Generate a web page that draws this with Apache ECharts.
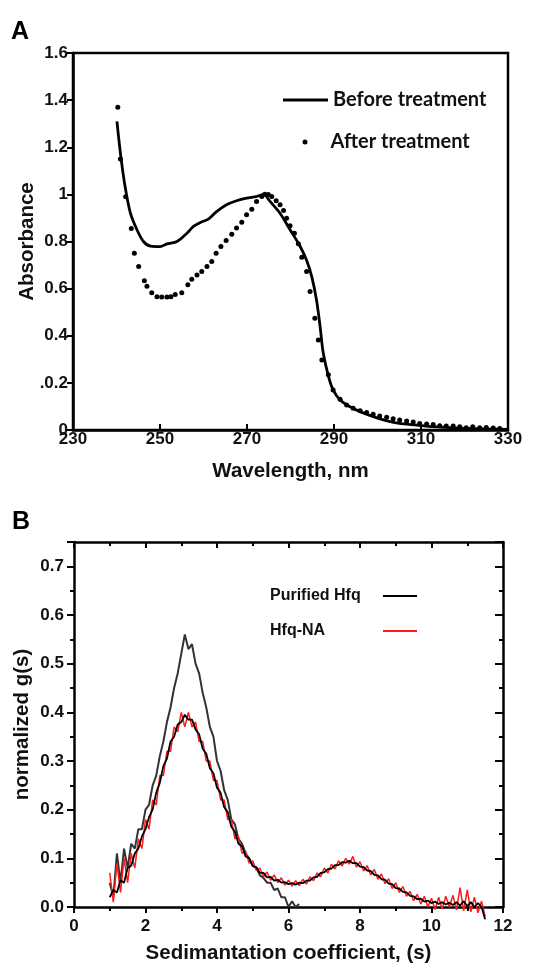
<!DOCTYPE html>
<html>
<head>
<meta charset="utf-8">
<script src="https://cdn.jsdelivr.net/npm/echarts@6/dist/echarts.min.js"></script>
<style>
html,body{margin:0;padding:0;background:#fff;}
#c{width:549px;height:965px;}
</style>
</head>
<body>
<div id="c"></div>
<script>
// ---------- Panel A data ----------
const beforeX = [240.1,241,242,243.2,244.7,246.2,247.8,250,251.6,253.9,256.2,257.7,259.2,261.1,263,265.3,267.6,269.9,272.2,273.8,275.3,277.6,279.9,282.2,283.7,284.9,286,286.8,287.5,288.7,289.8,291.4,293.7,296,299,302,305,309,312.8,320.4,330];
const beforeY = [1.31,1.16,1.03,0.92,0.85,0.80,0.78,0.778,0.79,0.80,0.835,0.864,0.88,0.895,0.927,0.956,0.973,0.984,0.991,1.0,0.97,0.92,0.85,0.78,0.72,0.65,0.55,0.44,0.33,0.23,0.17,0.127,0.099,0.078,0.057,0.04,0.028,0.021,0.014,0.007,0.003];
const afterX = [240.3,240.9,242.1,243.4,244.1,245.1,246.4,247,248.1,249.3,250.4,251.6,252.5,253.5,255,256.4,257.3,258.5,259.6,260.8,261.9,262.9,264,265.2,266.5,267.6,268.8,269.9,271.1,272.2,273.4,274.1,274.9,275.7,276.7,277.6,278.4,279.1,279.9,280.9,281.8,282.6,283.7,284.5,285.6,286.4,287.2,288.7,289.8,291.4,292.9,294.4,296,297.5,299,300.5,302.1,303.6,305.1,306.7,308.2,309.7,311.3,312.8,314.3,315.8,317.4,318.9,320.4,321.9,323.5,325,326.6,328.1];
const afterY = [1.37,1.15,0.99,0.855,0.75,0.694,0.633,0.61,0.583,0.566,0.564,0.564,0.566,0.575,0.583,0.616,0.64,0.658,0.673,0.694,0.715,0.75,0.779,0.804,0.831,0.857,0.882,0.913,0.937,0.97,0.991,1.001,1.0,0.991,0.973,0.956,0.932,0.899,0.867,0.835,0.79,0.733,0.673,0.588,0.474,0.382,0.297,0.234,0.17,0.13,0.106,0.092,0.082,0.074,0.067,0.059,0.054,0.048,0.042,0.038,0.034,0.028,0.025,0.023,0.018,0.017,0.017,0.014,0.01,0.014,0.01,0.011,0.008,0.006];
const absTickLabels = ['0','.0.2','0.4','0.6','0.8','1','1.2','1.4','1.6'];

// ---------- Panel B data ----------
const sedX = [1.0,1.1,1.2,1.3,1.4,1.5,1.6,1.7,1.8,1.9,2.0,2.1,2.2,2.3,2.4,2.5,2.6,2.7,2.8,2.9,3.0,3.1,3.2,3.3,3.4,3.5,3.6,3.7,3.8,3.9,4.0,4.1,4.2,4.3,4.4,4.5,4.6,4.7,4.8,4.9,5.0,5.1,5.2,5.3,5.4,5.5,5.6,5.7,5.8,5.9,6.0,6.1,6.2,6.3,6.4,6.5,6.6,6.7,6.8,6.9,7.0,7.1,7.2,7.3,7.4,7.5,7.6,7.7,7.8,7.9,8.0,8.1,8.2,8.3,8.4,8.5,8.6,8.7,8.8,8.9,9.0,9.1,9.2,9.3,9.4,9.5,9.6,9.7,9.8,9.9,10.0,10.1,10.2,10.3,10.4,10.5,10.6,10.7,10.8,10.9,11.0,11.1,11.2,11.3,11.4,11.5];
const purifiedY = [0.05,0.02,0.11,0.05,0.12,0.08,0.13,0.12,0.16,0.16,0.20,0.21,0.25,0.27,0.31,0.34,0.38,0.41,0.45,0.48,0.52,0.56,0.53,0.54,0.50,0.48,0.44,0.41,0.37,0.35,0.30,0.28,0.24,0.22,0.18,0.17,0.14,0.13,0.11,0.10,0.085,0.08,0.065,0.06,0.05,0.05,0.035,0.038,0.02,0.02,0.0,0.012,0.0,0.006];
const hfqNaY = [0.07,0.01,0.09,0.03,0.10,0.05,0.11,0.08,0.14,0.12,0.18,0.16,0.22,0.21,0.27,0.27,0.32,0.32,0.37,0.36,0.40,0.37,0.40,0.37,0.38,0.34,0.34,0.30,0.30,0.26,0.26,0.22,0.22,0.18,0.18,0.14,0.145,0.11,0.115,0.09,0.095,0.075,0.08,0.062,0.072,0.055,0.066,0.05,0.06,0.045,0.055,0.043,0.054,0.044,0.057,0.047,0.062,0.054,0.07,0.062,0.08,0.07,0.088,0.078,0.095,0.084,0.1,0.088,0.104,0.082,0.093,0.074,0.085,0.066,0.077,0.057,0.068,0.048,0.058,0.038,0.05,0.03,0.042,0.022,0.032,0.013,0.026,0.006,0.022,0.0,0.018,-0.005,0.02,-0.004,0.022,0.0,0.024,-0.006,0.04,-0.008,0.035,-0.01,0.02,-0.012,0.012,-0.02];
const hfqNaFitY = [0.02,0.035,0.03,0.055,0.05,0.08,0.085,0.11,0.12,0.145,0.16,0.185,0.20,0.235,0.255,0.29,0.305,0.34,0.35,0.375,0.38,0.395,0.385,0.385,0.365,0.355,0.325,0.315,0.285,0.275,0.245,0.235,0.205,0.195,0.165,0.155,0.13,0.125,0.104,0.1,0.084,0.082,0.07,0.07,0.061,0.062,0.054,0.056,0.05,0.051,0.047,0.049,0.046,0.05,0.049,0.054,0.054,0.061,0.062,0.07,0.071,0.078,0.079,0.086,0.086,0.092,0.091,0.095,0.09,0.09,0.083,0.082,0.075,0.074,0.066,0.065,0.057,0.056,0.048,0.047,0.039,0.038,0.031,0.03,0.023,0.022,0.016,0.017,0.011,0.013,0.008,0.011,0.006,0.01,0.005,0.009,0.004,0.01,0.003,0.012,0.002,0.01,0.0,0.008,0.0,-0.025];

function pairs(xs, ys){ return ys.map((y,i)=>[xs[i], y]); }

const FONT = "'Liberation Sans', Arial, sans-serif";
const lbl = {fontFamily: FONT, fontWeight: 'bold', fontSize: 17, color: '#111'};
const nameStyle = {fontFamily: FONT, fontWeight: 'bold', fontSize: 20.5, color: '#111'};
const legendFontA = "Lato, 'Open Sans', sans-serif";

const chart = echarts.init(document.getElementById('c'), null, {renderer: 'canvas'});
chart.setOption({
  backgroundColor: '#fff',
  animation: false,
  title: [
    {text: 'A', left: 11, top: 20, padding: 0, textStyle: {fontFamily: FONT, fontWeight: 'bold', fontSize: 25, color: '#000'}},
    {text: 'B', left: 12, top: 510, padding: 0, textStyle: {fontFamily: FONT, fontWeight: 'bold', fontSize: 25, color: '#000'}}
  ],
  legend: [
    {
      data: [{name: 'Before treatment', icon: 'rect'}],
      left: 283, top: 90, padding: 0,
      itemWidth: 45, itemHeight: 3,
      textStyle: {fontFamily: legendFontA, fontWeight: 'bold', fontSize: 20, color: '#111'}
    },
    {
      data: [{name: 'After treatment', icon: 'circle'}],
      left: 302.5, top: 132, padding: 0,
      itemWidth: 5, itemHeight: 5,
      textStyle: {fontFamily: legendFontA, fontWeight: 'bold', fontSize: 20, color: '#111', padding: [0,0,0,18]}
    },
    {
      data: [{name: 'Purified Hfq', icon: 'rect'}, {name: 'Hfq-NA', icon: 'rect'}],
      left: 270, top: 588, padding: 0,
      orient: 'vertical',
      align: 'right',
      itemWidth: 34, itemHeight: 2,
      itemGap: 19,
      formatter: function(n){ return '{a|' + n + '}'; },
      textStyle: {
        fontFamily: FONT, fontWeight: 'bold', fontSize: 16, color: '#111',
        rich: {a: {fontFamily: FONT, fontWeight: 'bold', fontSize: 16, color: '#111', width: 108, lineHeight: 18, align: 'left'}}
      }
    }
  ],
  grid: [
    {left: 73, right: 41, top: 53, bottom: 535, show: true, borderColor: '#000', borderWidth: 2.5, backgroundColor: 'transparent'},
    {left: 74, right: 46, top: 542, bottom: 55, show: false}
  ],
  xAxis: [
    {
      gridIndex: 0, type: 'value', min: 230, max: 330, interval: 20,
      axisLine: {show: true, lineStyle: {color: '#000', width: 2.5}},
      axisTick: {show: true, inside: true, length: 6, lineStyle: {color: '#000', width: 2}},
      splitLine: {show: false},
      axisLabel: Object.assign({margin: 1}, lbl),
      name: 'Wavelength, nm', nameLocation: 'middle', nameGap: 31, nameMoveOverlap: false,
      nameTextStyle: nameStyle
    },
    {
      gridIndex: 1, type: 'value', min: 0, max: 12, interval: 2,
      axisLine: {show: true, onZero: false, lineStyle: {color: '#000', width: 2.5}},
      axisTick: {show: true, inside: false, length: 6, lineStyle: {color: '#000', width: 2}},
      minorTick: {show: true, splitNumber: 2, length: 4, lineStyle: {color: '#000', width: 2}},
      splitLine: {show: false},
      axisLabel: Object.assign({margin: 11}, lbl),
      name: 'Sedimantation coefficient, (s)', nameLocation: 'middle', nameGap: 36, nameMoveOverlap: false,
      nameTextStyle: nameStyle
    },
    {
      gridIndex: 1, type: 'value', min: 0, max: 12, interval: 2, position: 'top',
      axisLine: {show: true, onZero: false, lineStyle: {color: '#000', width: 2.5}},
      axisTick: {show: true, inside: true, length: 6, lineStyle: {color: '#000', width: 2}},
      minorTick: {show: true, splitNumber: 2, length: 4, lineStyle: {color: '#000', width: 2}},
      splitLine: {show: false},
      axisLabel: {show: false}
    }
  ],
  yAxis: [
    {
      gridIndex: 0, type: 'value', min: 0, max: 1.6, interval: 0.2,
      axisLine: {show: true, lineStyle: {color: '#000', width: 2.5}},
      axisTick: {show: true, inside: false, length: 6, lineStyle: {color: '#000', width: 2}},
      splitLine: {show: false},
      axisLabel: Object.assign({margin: 5, formatter: function(v){ return absTickLabels[Math.round(v/0.2)]; }}, lbl),
      name: 'Absorbance', nameLocation: 'middle', nameGap: 35, nameMoveOverlap: false,
      nameTextStyle: nameStyle
    },
    {
      gridIndex: 1, type: 'value', min: 0, max: 0.75, interval: 0.1,
      axisLine: {show: true, onZero: false, lineStyle: {color: '#000', width: 2.5}},
      axisTick: {show: true, inside: false, length: 7, lineStyle: {color: '#000', width: 2}},
      minorTick: {show: true, splitNumber: 2, length: 4, lineStyle: {color: '#000', width: 2}},
      splitLine: {show: false},
      axisLabel: Object.assign({margin: 10, showMaxLabel: false, formatter: function(v){ return v.toFixed(1); }}, lbl),
      name: 'normalized g(s)', nameLocation: 'middle', nameGap: 41, nameMoveOverlap: false,
      nameTextStyle: nameStyle
    },
    {
      gridIndex: 1, type: 'value', min: 0, max: 0.75, interval: 0.1, position: 'right',
      axisLine: {show: true, onZero: false, lineStyle: {color: '#000', width: 2.5}},
      axisTick: {show: true, inside: true, length: 8, lineStyle: {color: '#000', width: 2}},
      minorTick: {show: true, splitNumber: 2, length: 4, lineStyle: {color: '#000', width: 2}},
      splitLine: {show: false},
      axisLabel: {show: false}
    }
  ],
  series: [
    {
      name: 'Before treatment', type: 'line', xAxisIndex: 0, yAxisIndex: 0,
      data: pairs(beforeX, beforeY), smooth: 0.3, showSymbol: false, symbol: 'none',
      lineStyle: {color: '#000', width: 2.8}, itemStyle: {color: '#000'}
    },
    {
      name: 'After treatment', type: 'scatter', xAxisIndex: 0, yAxisIndex: 0,
      data: pairs(afterX, afterY), symbol: 'circle', symbolSize: 5,
      itemStyle: {color: '#000', opacity: 1}
    },
    {
      name: 'Purified Hfq', type: 'line', xAxisIndex: 1, yAxisIndex: 1,
      data: pairs(sedX, purifiedY), showSymbol: false, symbol: 'none', clip: false,
      lineStyle: {color: '#333', width: 2}, itemStyle: {color: '#000'}
    },
    {
      name: 'Hfq-NA', type: 'line', xAxisIndex: 1, yAxisIndex: 1,
      data: pairs(sedX, hfqNaY), showSymbol: false, symbol: 'none', clip: false,
      lineStyle: {color: '#ff1a1a', width: 1.5}, itemStyle: {color: '#ff1a1a'}
    },
    {
      name: 'Hfq-NA fit', type: 'line', xAxisIndex: 1, yAxisIndex: 1,
      data: pairs(sedX, hfqNaFitY), showSymbol: false, symbol: 'none', clip: false,
      lineStyle: {color: '#000', width: 1.8}, itemStyle: {color: '#000'}
    }
  ]
});
</script>
</body>
</html>
